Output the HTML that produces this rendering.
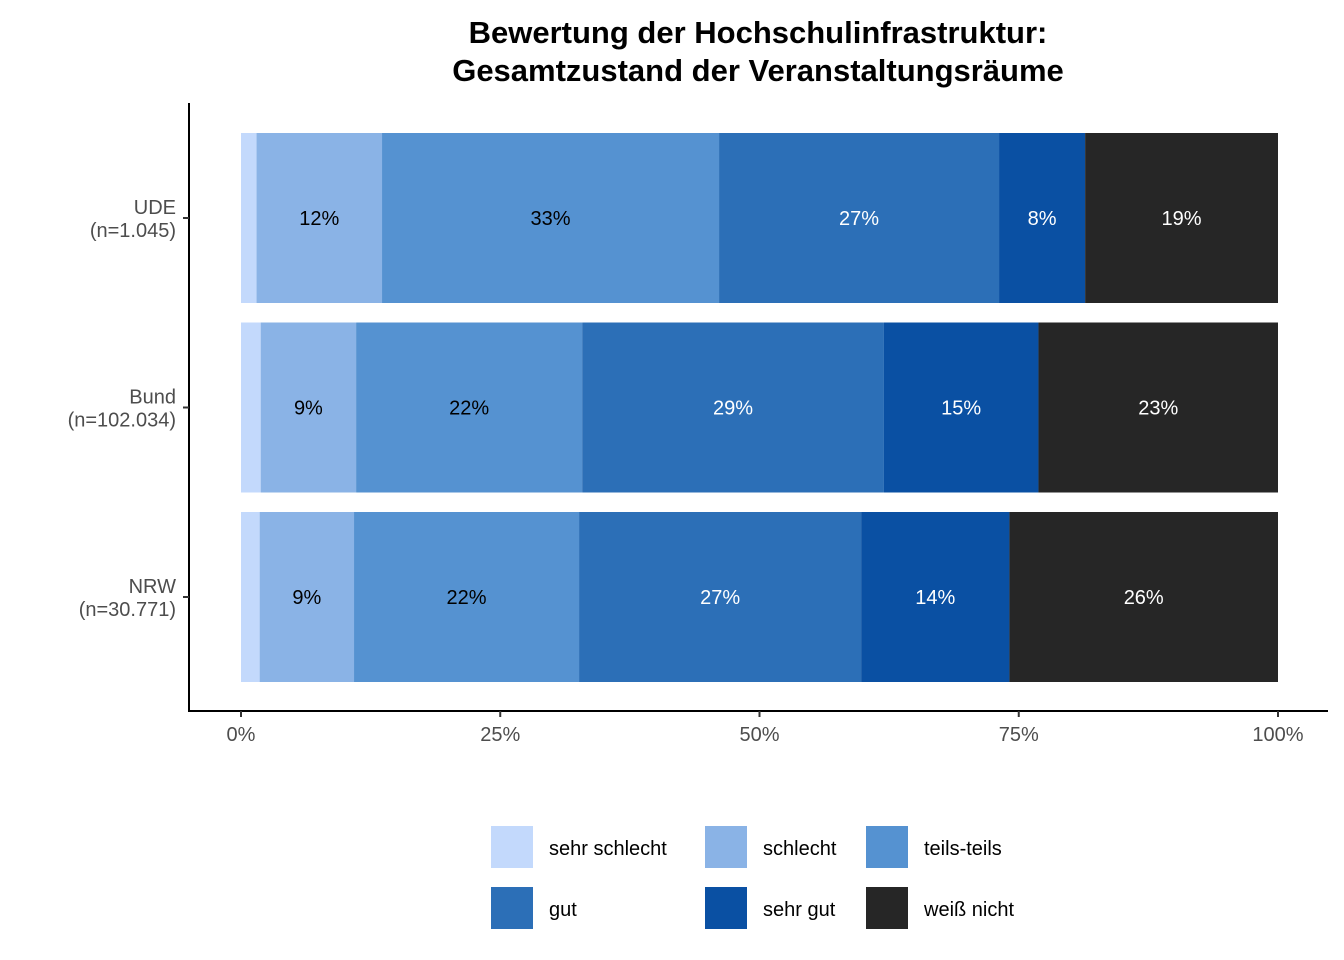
<!DOCTYPE html>
<html><head><meta charset="utf-8"><style>
html,body{margin:0;padding:0;background:#fff;}
svg{display:block;font-family:"Liberation Sans",Arial,sans-serif;}
</style></head><body>
<svg width="1344" height="960" viewBox="0 0 1344 960">
<g>
<text x="758" y="43" text-anchor="middle" font-size="31" font-weight="bold" fill="#000">Bewertung der Hochschulinfrastruktur:</text>
<text x="758" y="81" text-anchor="middle" font-size="31" font-weight="bold" fill="#000">Gesamtzustand der Veranstaltungsräume</text>
</g>
<g id="bars"></g>
<g id="axes"></g>
<g id="legend"></g>
</svg>
<script>
const categories = ["UDE\n(n=1.045)", "Bund\n(n=102.034)", "NRW\n(n=30.771)"];
const seriesNames = ["sehr schlecht", "schlecht", "teils-teils", "gut", "sehr gut", "weiß nicht"];
const sehrSchlecht = [1.5, 1.9, 1.8];
const schlecht = [12.1, 9.2, 9.1];
const teils = [32.5, 21.8, 21.7];
const gut = [27.0, 29.1, 27.2];
const sehrGut = [8.3, 14.9, 14.3];
const weissNicht = [18.6, 23.1, 25.9];
const xTicks = [0, 25, 50, 75, 100];
const xTickLabels = ["0%", "25%", "50%", "75%", "100%"];

const series = [sehrSchlecht, schlecht, teils, gut, sehrGut, weissNicht];
const colors = ["#C3D9FC", "#8AB3E6", "#5592D1", "#2C6FB7", "#0A50A3", "#262626"];
const textColors = ["#000", "#000", "#000", "#fff", "#fff", "#fff"];
const NS = "http://www.w3.org/2000/svg";
const x0 = 241, x1 = 1278;
const xs = v => x0 + (x1 - x0) * v / 100;
const bandTop = 133, bandStep = 189.5, barH = 170;
const ys = i => bandTop + i * bandStep;
function mk(tag, attrs, parent) { const e = document.createElementNS(NS, tag); for (const k in attrs) e.setAttribute(k, attrs[k]); parent.appendChild(e); return e; }

const gBars = document.getElementById("bars");
categories.forEach((c, i) => {
  let cum = 0;
  series.forEach((s, j) => {
    const v = s[i];
    const r = mk("rect", {x: xs(cum), y: ys(i), width: xs(cum + v) - xs(cum), height: barH, fill: colors[j]}, gBars);
    
    
    if (v >= 5) {
      const t = mk("text", {x: (xs(cum) + xs(cum + v)) / 2, y: ys(i) + barH / 2 + 7, "text-anchor": "middle", "font-size": "20", fill: textColors[j]}, gBars);
      t.textContent = Math.round(v) + "%";
      
      
    }
    cum += v;
  });
});

const gAx = document.getElementById("axes");
let l = mk("line", {x1: 189, y1: 103, x2: 189, y2: 711, stroke: "#000", "stroke-width": 2}, gAx);


l = mk("line", {x1: 188, y1: 711, x2: 1328, y2: 711, stroke: "#000", "stroke-width": 2}, gAx);


xTicks.forEach((v, k) => {
  const tk = mk("line", {x1: xs(v), y1: 711, x2: xs(v), y2: 717, stroke: "#333", "stroke-width": 2}, gAx);
  
  
  const t = mk("text", {x: xs(v), y: 741, "text-anchor": "middle", "font-size": "20", fill: "#4d4d4d"}, gAx);
  t.textContent = xTickLabels[k];
  
  
});
categories.forEach((c, i) => {
  const cy = ys(i) + barH / 2;
  const tk = mk("line", {x1: 183, y1: cy, x2: 189, y2: cy, stroke: "#333", "stroke-width": 2}, gAx);
  
  
  const parts = c.split("\n");
  const t = mk("text", {x: 176, y: cy - 4, "text-anchor": "end", "font-size": "20", fill: "#4d4d4d"}, gAx);
  
  
  const a = mk("tspan", {x: 176, dy: 0}, t); a.textContent = parts[0];
  const b = mk("tspan", {x: 176, dy: 23}, t); b.textContent = parts[1];
});

const gLeg = document.getElementById("legend");
const colX = [491, 705, 866], rowY = [826, 887];
seriesNames.forEach((n, j) => {
  const cx = colX[j % 3], cy = rowY[Math.floor(j / 3)];
  const g = mk("g", {}, gLeg);
  
  
  mk("rect", {x: cx, y: cy, width: 42, height: 42, fill: colors[j]}, g);
  const t = mk("text", {x: cx + 58, y: cy + 29, "font-size": "20", fill: "#000"}, g);
  t.textContent = n;
});
</script>
</body></html>
